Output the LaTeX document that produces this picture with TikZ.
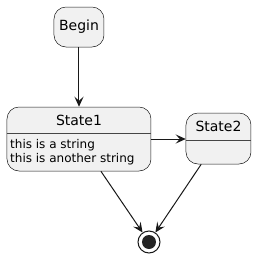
\documentclass[tikz,border=0pt]{standalone}
\usepackage{fontspec}
\setmainfont{DejaVu Sans}
\usepackage{tikz}
\usepackage{xcolor}
\usetikzlibrary{positioning,arrows.meta}

\definecolor{statefill}{HTML}{F1F1F1}
\definecolor{stateline}{HTML}{181818}

\begin{document}
\begin{tikzpicture}[
    x=1pt, y=-1pt,
    state/.style={
        rectangle,
        draw=stateline,
        fill=statefill,
        line width=0.5pt,
        rounded corners=12pt,
        inner sep=0pt
    },
    title/.style={
        font=\fontsize{14}{16}\selectfont,
        inner sep=0pt
    },
    desc/.style={
        font=\fontsize{12}{14}\selectfont,
        align=left,
        inner sep=0pt,
        anchor=north west
    },
    divider/.style={
        draw=stateline!80!white,
        line width=0.5pt
    },
    trans/.style={
        -{Stealth[length=10pt,width=9pt,inset=4pt]},
        draw=stateline,
        line width=1pt
    }
]
    \useasboundingbox (0,0) rectangle (258,258);

    % --- STATES ---
    % 1. Begin
    \node [state, minimum width=50pt, minimum height=40pt] (begin) at (79,27) {};
    \node [title] (begintitle) at (79,27) {Begin};

    % 2. State1 (with description)
    \node [state, minimum width=144pt, minimum height=64pt] (state1) at (79,139) {};
    \node [title] (state1title) at (79,120) {State1};
    \node [desc] (state1text) at (10,139.5) {this is a string\\this is another string};
    \draw [divider] (state1.west |- 0,133) -- (state1.east |- 0,133);

    % 3. State2
    \node [state, minimum width=65pt, minimum height=51pt] (state2) at (218.5,138.5) {};
    \node [title] (state2title) at (218.5,126) {State2};
    \draw [divider] (state2.west |- 0,140) -- (state2.east |- 0,140);

    % 4. Final state
    \node [circle, draw=stateline, fill=white, line width=1pt, minimum size=22pt, inner sep=0pt] (final) at (149,242) {};
    \node [circle, fill=stateline!95!white, minimum size=14pt, inner sep=0pt] (finaldot) at (final.center) {};

    % --- TRANSITIONS ---
    \draw [trans] (begin) -- (state1);
    \draw [trans] (state1.east) -- (state1.east -| state2.west);
    \draw [trans] (state1) -- (final);
    \draw [trans] (state2) -- (final);

\end{tikzpicture}
\end{document}
